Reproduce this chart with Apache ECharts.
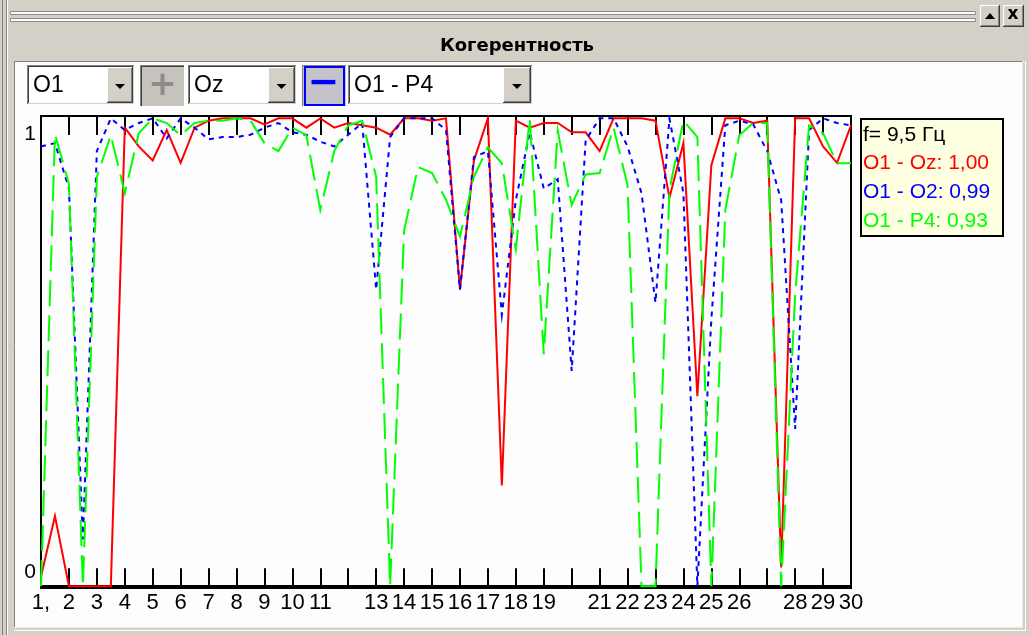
<!DOCTYPE html>
<html>
<head>
<meta charset="utf-8">
<script src="https://cdn.jsdelivr.net/npm/echarts@6/dist/echarts.min.js"></script>
<style>
html,body{margin:0;padding:0;background:#d4d0c8;overflow:hidden;}
#c{width:1029px;height:635px;}
</style>
</head>
<body>
<div id="c"></div>
<script>
// ---------- data ----------
const titleText = 'Когерентность';
const comboLeft = 'O1';
const comboRight = 'Oz';
const comboPair = 'O1 - P4';
const cursorLabel = 'f= 9,5 Гц';
const cursorFreq = 9.5;

const freqs = [1,1.5,2,2.5,3,3.5,4,4.5,5,5.5,6,6.5,7,7.5,8,8.5,9,9.5,10,10.5,
  11,11.5,12,12.5,13,13.5,14,14.5,15,15.5,16,16.5,17,17.5,18,18.5,19,19.5,20,20.5,
  21,21.5,22,22.5,23,23.5,24,24.5,25,25.5,26,26.5,27,27.5,28,28.5,29,29.5,30];

const xTickLabels = ['1,','2','3','4','5','6','7','8','9','10','11','','13','14','15',
  '16','17','18','19','','21','22','23','24','25','26','','28','29','30'];
const yTickValues = [0,1];
const yTickLabels = ['0','1'];

const seriesNames = ['O1 - Oz','O1 - O2','O1 - P4'];

const cohOz = [0.02,0.15,0,0,0,0,0.98,0.94,0.91,0.975,0.905,0.98,0.995,1,1,1,0.987,1.00,1,0.98,
  1,0.98,0.99,0.985,0.98,0.965,1,1,0.995,1,0.634,0.91,1,0.215,0.995,0.98,0.99,0.99,0.97,0.97,
  0.93,1,1,1,0.995,0.83,0.947,0.406,0.9,1,1,0.99,0.995,0.04,1,1,0.94,0.905,0.985];

const cohO2 = [0.94,0.947,0.85,0.10,0.93,1,0.975,0.99,1,0.957,1,0.98,0.955,0.96,0.96,0.965,0.98,0.99,0.97,0.965,
  0.95,0.94,0.965,0.99,0.634,0.96,1,1,1,0.975,0.634,0.917,0.93,0.58,0.825,0.97,0.85,0.87,0.46,0.953,
  1,1,0.94,0.84,0.606,1,0.84,0,0.57,0.985,0.995,0.987,0.93,0.825,0.336,0.975,1,0.99,0.985];

const cohP4 = [0,0.966,0.86,0,0.875,0.964,0.84,0.968,1,0.99,0.964,0.99,0.995,0.995,1,0.995,0.947,0.93,0.98,0.964,
  0.804,0.93,0.985,0.995,0.875,0,0.76,0.896,0.883,0.826,0.747,0.875,0.938,0.904,0.72,1,0.496,0.974,0.815,0.88,
  0.883,0.98,0.857,0,0,0.847,0.995,0.96,0,0.804,0.964,0.99,0.99,0,0.623,0.985,0.968,0.904,0.904];

const seriesValues = [cohOz, cohO2, cohP4];
const seriesColors = ['#ff0000','#0000ff','#00ff00'];
const seriesDash = ['solid',[5,5],[26,9]];

// ---------- chart ----------
const FONT = '"Liberation Sans", Arial, sans-serif';
const chart = echarts.init(document.getElementById('c'), null, {renderer:'canvas'});

const G = [];
function line(x1,y1,x2,y2,color,w,z){G.push({type:'line',z:(z===undefined?1:z),silent:true,shape:{x1,y1,x2,y2},style:{stroke:color,lineWidth:w||1}});}
function rect(x,y,w,h,fill,stroke,lw,z){G.push({type:'rect',z:(z===undefined?1:z),silent:true,shape:{x,y,width:w,height:h},style:{fill:fill||'none',stroke:stroke||'none',lineWidth:lw||0}});}
function text(t,x,y,font,fill,align,z){G.push({type:'text',z:(z===undefined?5:z),silent:true,x,y,style:{text:t,font,fill,align:align||'left',verticalAlign:'middle'}});}
function poly(pts,fill,z){G.push({type:'polygon',z:(z===undefined?5:z),silent:true,shape:{points:pts},style:{fill}});}

// window left border
line(2.5,0,2.5,635,'#808080',1,-20);
line(6.5,0,6.5,635,'#808080',1,-20);
line(7.5,0,7.5,635,'#ffffff',1,-20);
// grip bars
rect(10.5,11.5,965,3,'#ffffff','#8a8a8a',1,1);
rect(10.5,18.5,965,3,'#ffffff','#8a8a8a',1,1);
// caption buttons
function raisedBtn(x,y,w,h){
  rect(x,y,w,h,'#d4d0c8');
  line(x,y+0.5,x+w,y+0.5,'#ffffff',1,2);
  line(x+0.5,y,x+0.5,y+h,'#ffffff',1,2);
  line(x,y+h-0.5,x+w,y+h-0.5,'#404040',1,2);
  line(x+w-0.5,y,x+w-0.5,y+h,'#404040',1,2);
  line(x+1,y+h-1.5,x+w-1,y+h-1.5,'#808080',1,2);
  line(x+w-1.5,y+1,x+w-1.5,y+h-1,'#808080',1,2);
}
raisedBtn(980,5,20,22);
poly([[985,19],[995,19],[990,13]],'#000');
raisedBtn(1003,5,21,22);
text('x',1013,15,'bold 17px "DejaVu Sans", sans-serif','#000','center');

// title
text(titleText,517,46,'bold 18px "DejaVu Sans", sans-serif','#000','center');

// white panel (under the grid)
rect(14,61,1009,567,'#fcfdfc',null,0,-20);
line(14,61.5,1023,61.5,'#808080',1,-19);
line(14.5,61,14.5,628,'#808080',1,-19);
line(14,627.5,1023,627.5,'#ece9e0',1,-19);
line(1022.5,61,1022.5,628,'#ece9e0',1,-19);
line(14,630.5,1026,630.5,'#ffffff',1,-19);
line(1025.5,61,1025.5,631,'#ffffff',1,-19);

// combo boxes
function combo(x1,x2,bx,label){
  rect(x1,65,x2-x1,40,'#ffffff');
  line(x1,65.5,x2,65.5,'#808080',1,2);
  line(x1+0.5,65,x1+0.5,105,'#808080',1,2);
  line(x1+1,66.5,x2-1,66.5,'#404040',1,2);
  line(x1+1.5,66,x1+1.5,104,'#404040',1,2);
  line(x1,104.5,x2,104.5,'#ffffff',1,2);
  line(x2-0.5,65,x2-0.5,105,'#ffffff',1,2);
  line(x1+1,103.5,x2-1,103.5,'#d4d0c8',1,2);
  line(x2-1.5,66,x2-1.5,104,'#d4d0c8',1,2);
  raisedBtn(bx,67,x2-2-bx,36);
  const cx = bx+(x2-2-bx)/2;
  poly([[cx-5,84],[cx+5,84],[cx,89]],'#000');
  text(label,x1+6,86,'23px '+FONT,'#000','left');
}
combo(27,135,107,comboLeft);
combo(188,297,268,comboRight);
combo(348,533,503,comboPair);

// plus button (disabled)
rect(140,65,45,42,'#c6c3bc');
line(140,65.5,185,65.5,'#808080',1,2);
line(140.5,65,140.5,107,'#808080',1,2);
line(141,66.5,184,66.5,'#404040',1,2);
line(141.5,66,141.5,106,'#404040',1,2);
line(140,106.5,185,106.5,'#ffffff',1,2);
line(184.5,65,184.5,107,'#ffffff',1,2);
text('+',162.5,86,'bold 34px "DejaVu Sans", sans-serif','#8c8c8c','center');

// minus button (active)
rect(302,65,45,42,'#c4c3cc');
line(302,65.5,347,65.5,'#808080',1,2);
line(302.5,65,302.5,107,'#808080',1,2);
line(302,106.5,347,106.5,'#ffffff',1,2);
line(346.5,65,346.5,107,'#ffffff',1,2);
rect(305,67,39,38,null,'#0000ff',2,3);
text('−',323.5,84,'bold 38px "DejaVu Sans", sans-serif','#0000ff','center');

// legend box
const ci = freqs.indexOf(cursorFreq);
rect(861,119,142,117,'#ffffe1','#000000',2,5);
text(cursorLabel,863,135,'21px '+FONT,'#000','left',6);
const legendY = [163,192,221];
seriesNames.forEach((n,k)=>{
  const v = seriesValues[k][ci].toFixed(2).replace('.',',');
  text(n+': '+v,863,legendY[k],'21px '+FONT,seriesColors[k],'left',6);
});

const series = seriesNames.map((n,k)=>({
  name:n, type:'line', xAxisIndex:0, yAxisIndex:0,
  data: freqs.map((f,i)=>[f, seriesValues[k][i]]),
  showSymbol:false, symbol:'none', animation:false, clip:true,
  z: 3+k,
  lineStyle:{color:seriesColors[k], width:2, type:seriesDash[k], cap:'butt', join:'miter'},
  emphasis:{disabled:true}
}));

const tickStyle = {color:'#000', width:2};
chart.setOption({
  backgroundColor:'#d4d0c8',
  animation:false,
  grid:{left:41, top:116, width:810, height:472, show:true, backgroundColor:'#fcfdfc', borderColor:'#000', borderWidth:2, containLabel:false},
  xAxis:[{
    type:'value', position:'bottom', min:1, max:30, interval:1,
    axisLine:{show:true, lineStyle:tickStyle},
    axisTick:{show:true, inside:true, length:18, lineStyle:tickStyle},
    splitLine:{show:false},
    axisLabel:{show:true, margin:4, color:'#000', fontSize:22, fontFamily:FONT,
      formatter:v=>{const i=Math.round(v)-1; return xTickLabels[i]!==undefined?xTickLabels[i]:'';}}
  },{
    type:'value', position:'top', min:1, max:30, interval:1,
    axisLine:{show:false},
    axisTick:{show:true, inside:true, length:19, lineStyle:tickStyle},
    splitLine:{show:false}, axisLabel:{show:false}
  }],
  yAxis:{
    type:'value', min:-0.004, max:1.005,
    axisLine:{show:false}, axisTick:{show:false}, splitLine:{show:false},
    axisLabel:{show:true, margin:5, color:'#000', fontSize:21, fontFamily:FONT,
      customValues: yTickValues,
      formatter:v=>{ if(Math.abs(v-1)<1e-9) return '{t|'+yTickLabels[1]+'}'; if(Math.abs(v)<1e-9) return '{b|'+yTickLabels[0]+'}'; return ''; },
      rich:{t:{fontSize:21,fontFamily:FONT,color:'#000',padding:[32,0,0,0]}, b:{fontSize:21,fontFamily:FONT,color:'#000',padding:[0,0,27,0]}}
    }
  },
  graphic:G,
  series
});
</script>
</body>
</html>
